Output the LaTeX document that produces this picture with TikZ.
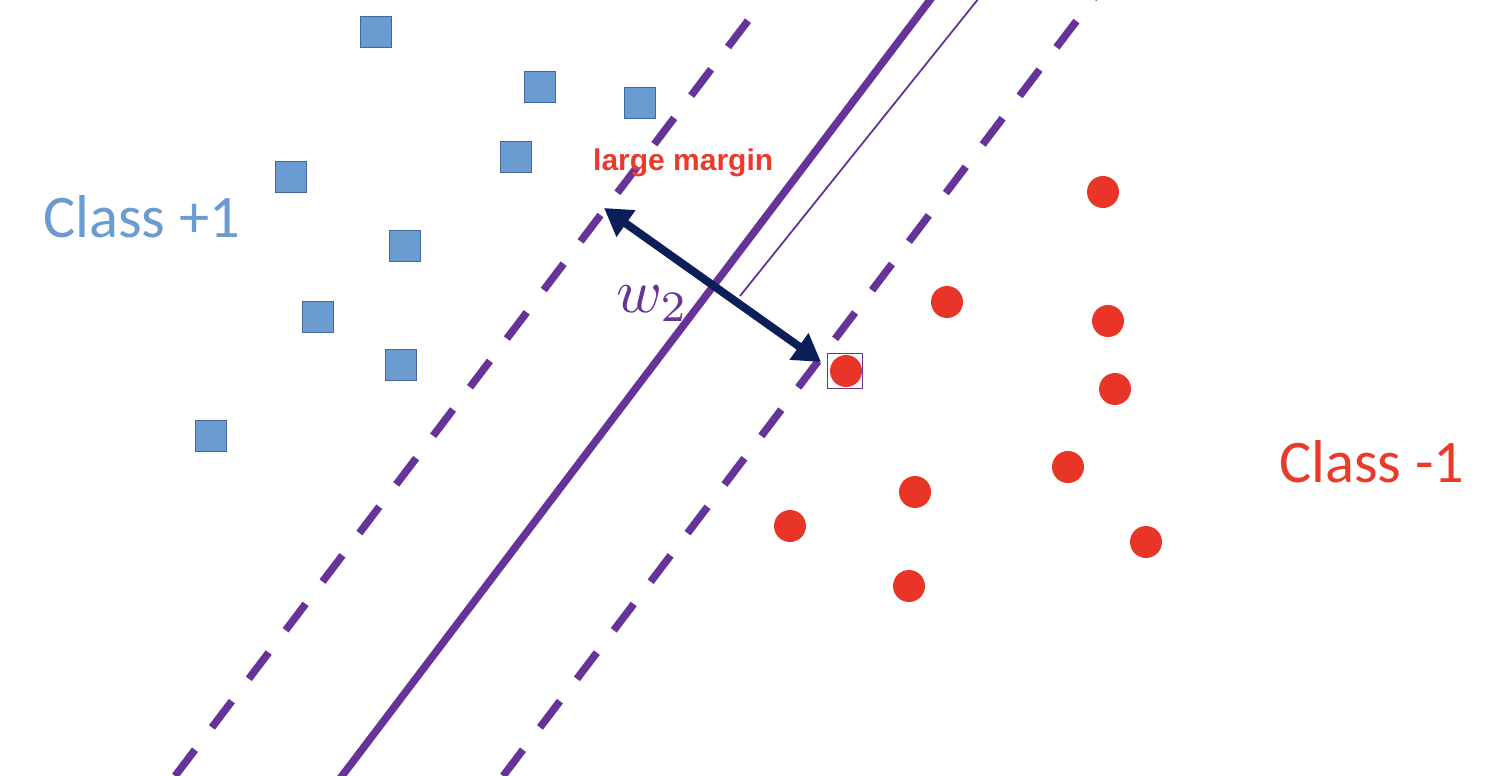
\documentclass[tikz,border=0pt]{standalone}
\usepackage{fontspec}
\usetikzlibrary{arrows.meta}
\newfontfamily\calibrifont{Carlito}
\newfontfamily\arialfont{Liberation Sans}
\definecolor{lpurple}{RGB}{102,51,153}
\definecolor{navyarrow}{RGB}{12,30,90}
\definecolor{sqfill}{RGB}{106,155,209}
\definecolor{sqedge}{RGB}{66,104,154}
\definecolor{dotred}{RGB}{233,53,40}
\definecolor{txtblue}{RGB}{106,155,209}
\definecolor{txtred}{RGB}{233,59,42}
\tikzset{
  sq/.style={rectangle, draw=sqedge, fill=sqfill, line width=1.6pt, minimum size=31pt, inner sep=0pt},
  dot/.style={circle, fill=dotred, minimum size=32pt, inner sep=0pt},
  svbox/.style={rectangle, draw=lpurple, line width=1.4pt, minimum size=35pt, inner sep=0pt},
  solidline/.style={lpurple, line width=7.5pt},
  dashline/.style={lpurple, line width=7.5pt, dash pattern=on 33pt off 28pt, dash phase=0pt},
  thinline/.style={lpurple, line width=1.8pt},
  marginarrow/.style={navyarrow, line width=8pt, {Triangle[length=27pt,width=31pt]}-{Triangle[length=27pt,width=31pt]}},
  classlabel/.style={inner sep=0pt, anchor=base west, font=\calibrifont\fontsize{60.5}{72}\selectfont},
}
\begin{document}
\begin{tikzpicture}[x=1pt,y=-1pt]
\useasboundingbox (0,0) rectangle (1504,776);
\clip (0,0) rectangle (1504,776);
\fill[white] (0,0) rectangle (1504,776);

% hyperplane lines
\coordinate (sA) at (334.4,786);
\coordinate (sB) at (937.6,-10);
\draw[solidline] (sA) -- (sB);
\coordinate (lA) at (138.2,824.6);
\coordinate (lB) at (750,18);
\draw[dashline] (lA) -- (lB);
\coordinate (rA) at (466.2,824.6);
\coordinate (rB) at (1100,-10);
\draw[dashline] (rA) -- (rB);
\coordinate (tA) at (740,296);
\coordinate (tB) at (979,-2);
\draw[thinline] (tA) -- (tB);

% blue squares
\node[sq] (q1) at (376,32) {};
\node[sq] (q2) at (540,87) {};
\node[sq] (q3) at (640,103) {};
\node[sq] (q4) at (516,157) {};
\node[sq] (q5) at (291,177) {};
\node[sq] (q6) at (405,246) {};
\node[sq] (q7) at (318,317) {};
\node[sq] (q8) at (401,365) {};
\node[sq] (q9) at (211,436) {};

% red circles
\node[dot] (c1) at (1103,192) {};
\node[dot] (c2) at (947,302) {};
\node[dot] (c3) at (1108,321) {};
\node[dot] (c4) at (846,371) {};
\node[svbox] (sv) at (845,371) {};
\node[dot] (c5) at (1115,389) {};
\node[dot] (c6) at (1068,467) {};
\node[dot] (c7) at (915,492) {};
\node[dot] (c8) at (790,526) {};
\node[dot] (c9) at (1146,542) {};
\node[dot] (c10) at (909,586) {};

% margin arrow
\coordinate (mL) at (604,208);
\coordinate (mR) at (821,362);
\draw[marginarrow] (mL) -- (mR);

% labels
\node[classlabel, text=txtblue] (cp) at (43,237) {Class +1};
\node[classlabel, text=txtred] (cm) at (1279,482) {Class -1};
\node[inner sep=0pt, anchor=base west, text=txtred, font=\arialfont\bfseries\fontsize{30}{36}\selectfont] (lm) at (593,170) {large margin};
\node[inner sep=0pt, anchor=base west, text=lpurple, scale=6.2] (w) at (615,312) {$w_2$};
\end{tikzpicture}
\end{document}
